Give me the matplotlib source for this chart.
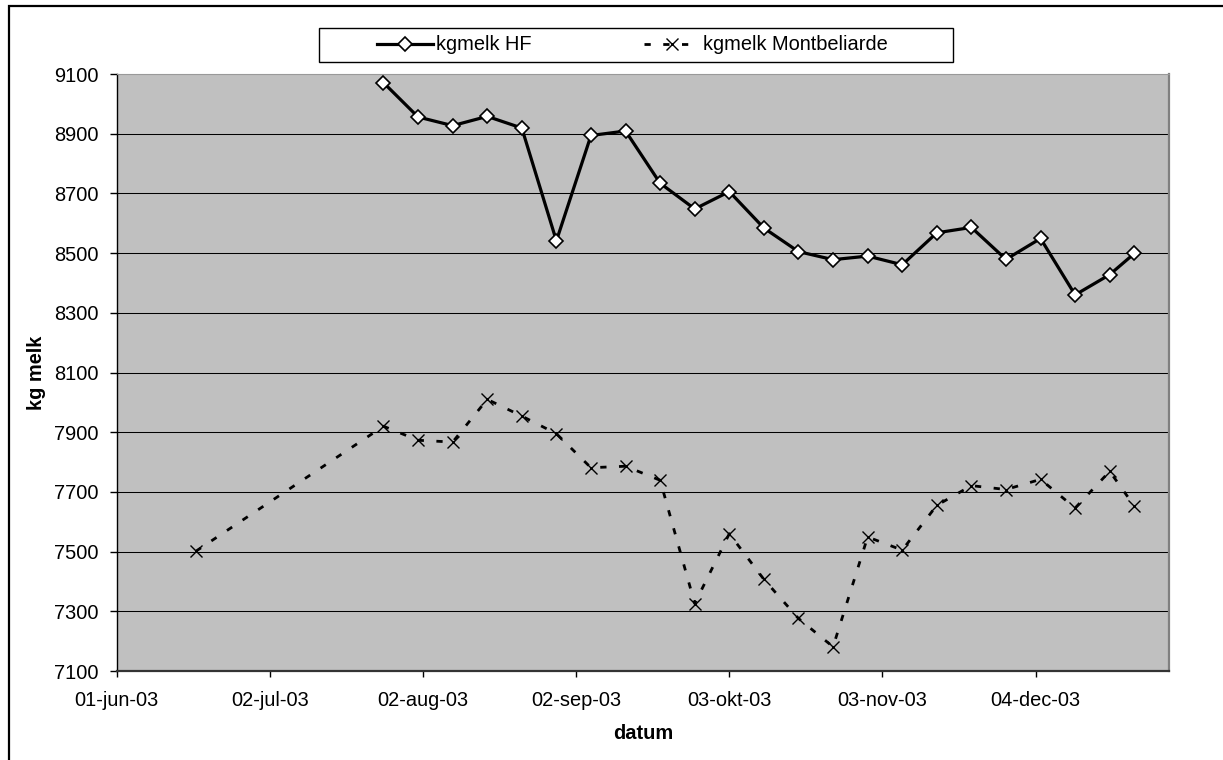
import matplotlib
matplotlib.use("Agg")
import matplotlib.pyplot as plt
from matplotlib.lines import Line2D
from matplotlib.patches import Rectangle
from datetime import datetime

# ---- data -------------------------------------------------------------
hf_dates = ["2003-07-25", "2003-08-01", "2003-08-08", "2003-08-15", "2003-08-22",
            "2003-08-29", "2003-09-05", "2003-09-12", "2003-09-19", "2003-09-26",
            "2003-10-03", "2003-10-10", "2003-10-17", "2003-10-24", "2003-10-31",
            "2003-11-07", "2003-11-14", "2003-11-21", "2003-11-28", "2003-12-05",
            "2003-12-12", "2003-12-19", "2003-12-24"]
hf_kg = [9071, 8956, 8927, 8958, 8919, 8541, 8894, 8909, 8734, 8648, 8706, 8584,
         8505, 8478, 8490, 8461, 8568, 8586, 8479, 8549, 8360, 8428, 8499]

mb_dates = ["2003-06-17"] + hf_dates
mb_kg = [7501, 7920, 7873, 7867, 8010, 7954, 7895, 7781, 7786, 7739, 7326, 7560,
         7407, 7276, 7181, 7549, 7505, 7655, 7721, 7708, 7742, 7646, 7769, 7652]

x_ticks = ["2003-06-01", "2003-07-02", "2003-08-02", "2003-09-02",
           "2003-10-03", "2003-11-03", "2003-12-04"]
x_ticklabels = ["01-jun-03", "02-jul-03", "02-aug-03", "02-sep-03",
                "03-okt-03", "03-nov-03", "04-dec-03"]
y_ticks = [7100, 7300, 7500, 7700, 7900, 8100, 8300, 8500, 8700, 8900, 9100]

series_names = ["kgmelk HF", "kgmelk Montbeliarde"]


def to_dt(seq):
    return [datetime.strptime(s, "%Y-%m-%d") for s in seq]


plt.rcParams["font.family"] = ["Liberation Sans", "DejaVu Sans"]
plt.rcParams["lines.scale_dashes"] = False

W, H, DPI = 1223, 760, 100
fig = plt.figure(figsize=(W / DPI, H / DPI), dpi=DPI, facecolor="white")

# plot area in pixel coordinates
left, right, top, bottom = 116.7, 1169, 74, 671
ax = fig.add_axes([left / W, 1 - bottom / H, (right - left) / W, (bottom - top) / H])
ax.set_facecolor("#c0c0c0")

FS = 14.4

# horizontal gridlines
for v in y_ticks[1:-1]:
    ax.axhline(v, color="black", lw=0.75, zorder=1)

ax.plot(to_dt(hf_dates), hf_kg, color="black", lw=2.3, marker="D", ms=7,
        mfc="white", mec="black", mew=1.2, zorder=4, solid_joinstyle="miter")
ax.plot(to_dt(mb_dates), mb_kg, color="black", lw=2.0, dashes=(4.5, 9.0),
        marker="x", ms=8.5, mec="black", mew=1.0, zorder=3)

ax.set_ylim(7100, 9100)
ax.set_xlim(datetime(2003, 6, 1), datetime(2003, 12, 31))
ax.set_yticks(y_ticks)
ax.set_yticklabels([str(v) for v in y_ticks], fontsize=FS)
ax.set_xticks(to_dt(x_ticks))
ax.set_xticklabels(x_ticklabels, fontsize=FS)
ax.tick_params(axis="y", direction="out", length=5, width=1, pad=8, colors="black")
ax.tick_params(axis="x", direction="out", length=4.5, width=1, pad=10,
               colors="black")

ax.spines["top"].set_color("#999999")
ax.spines["top"].set_linewidth(0.8)
ax.spines["right"].set_color("#808080")
ax.spines["right"].set_linewidth(1.6)
ax.spines["left"].set_color("black")
ax.spines["left"].set_linewidth(1.0)
ax.spines["bottom"].set_color("#333333")
ax.spines["bottom"].set_linewidth(1.6)

ax.set_xlabel("datum", fontsize=FS, fontweight="bold", labelpad=10)
ax.set_ylabel("kg melk", fontsize=FS, fontweight="bold", labelpad=6)

# legend with a plain rectangular frame
handles = [
    Line2D([], [], color="black", lw=2.3, marker="D", ms=7, mfc="white",
           mec="black", mew=1.2),
    Line2D([], [], color="black", lw=2.0, dashes=(4.5, 9.0), marker="x", ms=8.5,
           mec="black", mew=1.0),
]
leg_box = (319, 28, 953, 62)
fig.legend(handles, series_names, loc="center left", ncol=2, frameon=False,
           bbox_to_anchor=(376.7 / W, 1 - 45 / H), borderpad=0, borderaxespad=0,
           handlelength=2.8, handletextpad=0.17, columnspacing=5.6,
           fontsize=FS)
fig.patches.append(Rectangle((leg_box[0] / W, 1 - leg_box[3] / H),
                             (leg_box[2] - leg_box[0]) / W,
                             (leg_box[3] - leg_box[1]) / H,
                             transform=fig.transFigure, fill=False,
                             edgecolor="black", lw=1.0))

# outer chart border
fig.patches.append(Rectangle((9 / W, -0.2), 1.5, 1.2 - 6 / H,
                             transform=fig.transFigure, fill=False,
                             edgecolor="black", lw=1.6))

fig.savefig("out.png", dpi=DPI, facecolor="white")
